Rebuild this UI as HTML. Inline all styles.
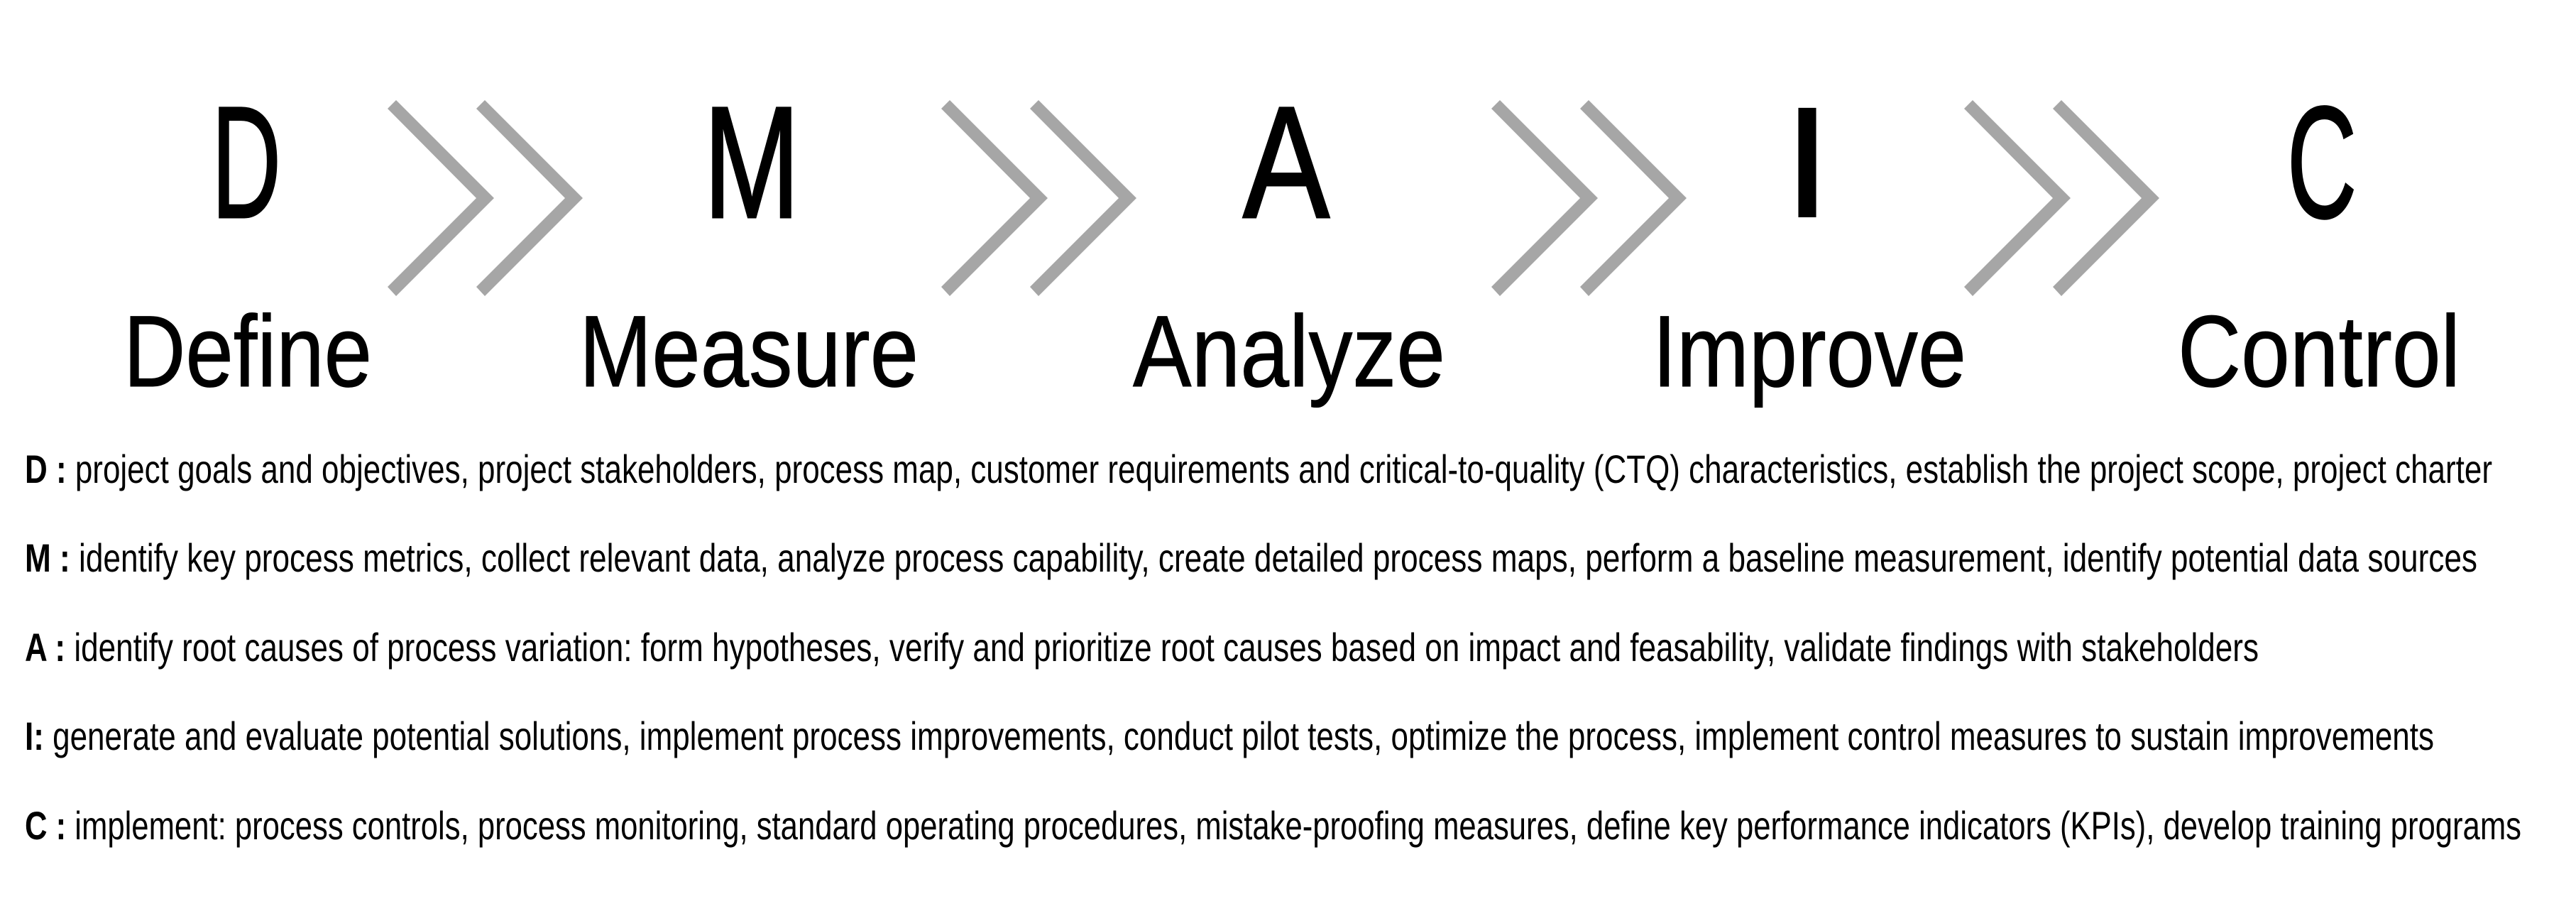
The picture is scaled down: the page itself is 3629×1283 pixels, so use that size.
<!DOCTYPE html>
<html><head><meta charset="utf-8"><style>
html,body{margin:0;padding:0;background:#fff;}
svg{display:block;}
text{font-family:"Liberation Sans Narrow","Liberation Sans",sans-serif;fill:#000;}
</style></head><body>
<svg width="3629" height="1283" viewBox="0 0 3629 1283" xmlns="http://www.w3.org/2000/svg">
<defs>
<polygon id="ch" points="558,141 696,279 558,417 546,404 671,279 546,153" fill="#a6a6a6"/>
<g id="pair"><use href="#ch"/><use href="#ch" x="125"/></g>
</defs>
<use href="#pair" x="0"/>
<use href="#pair" x="780"/>
<use href="#pair" x="1555"/>
<use href="#pair" x="2221"/>

<g font-size="224" stroke="#000" stroke-width="3">
<text x="298" y="306" textLength="98" lengthAdjust="spacingAndGlyphs">D</text>
<text x="991" y="306" textLength="136" lengthAdjust="spacingAndGlyphs">M</text>
<text x="1751" y="306" textLength="122" lengthAdjust="spacingAndGlyphs">A</text>
<text x="3222" y="306" textLength="98" lengthAdjust="spacingAndGlyphs">C</text>
</g>
<text font-size="224" transform="translate(2546,306) scale(1.2,1)" text-anchor="middle">I</text>
<g font-size="143" stroke="#000" stroke-width="1">
<text x="174" y="544" textLength="350" lengthAdjust="spacingAndGlyphs">Define</text>
<text x="816" y="544" textLength="478" lengthAdjust="spacingAndGlyphs">Measure</text>
<text x="1596" y="544" textLength="440" lengthAdjust="spacingAndGlyphs">Analyze</text>
<text x="2328" y="544" textLength="442" lengthAdjust="spacingAndGlyphs">Improve</text>
<text x="3068" y="544" textLength="398" lengthAdjust="spacingAndGlyphs">Control</text>
</g>
<g font-size="56">
<text x="35" y="680" textLength="3476" lengthAdjust="spacingAndGlyphs"><tspan font-weight="bold">D :</tspan> project goals and objectives, project stakeholders, process map, customer requirements and critical-to-quality (CTQ) characteristics, establish the project scope, project charter</text>
<text x="35" y="805" textLength="3455" lengthAdjust="spacingAndGlyphs"><tspan font-weight="bold">M :</tspan> identify key process metrics, collect relevant data, analyze process capability,  create detailed process maps, perform a baseline measurement, identify potential data sources</text>
<text x="35" y="931" textLength="3147" lengthAdjust="spacingAndGlyphs"><tspan font-weight="bold">A :</tspan> identify root causes of process variation: form hypotheses, verify and prioritize root causes based on impact and feasability, validate findings with stakeholders</text>
<text x="35" y="1056" textLength="3394" lengthAdjust="spacingAndGlyphs"><tspan font-weight="bold">I:</tspan> generate and evaluate potential solutions, implement process improvements, conduct pilot tests, optimize the process, implement control measures to sustain improvements</text>
<text x="35" y="1182" textLength="3517" lengthAdjust="spacingAndGlyphs"><tspan font-weight="bold">C :</tspan> implement: process controls, process monitoring, standard operating procedures, mistake-proofing measures, define key performance indicators (KPIs), develop training programs</text>
</g>
</svg>
</body></html>
